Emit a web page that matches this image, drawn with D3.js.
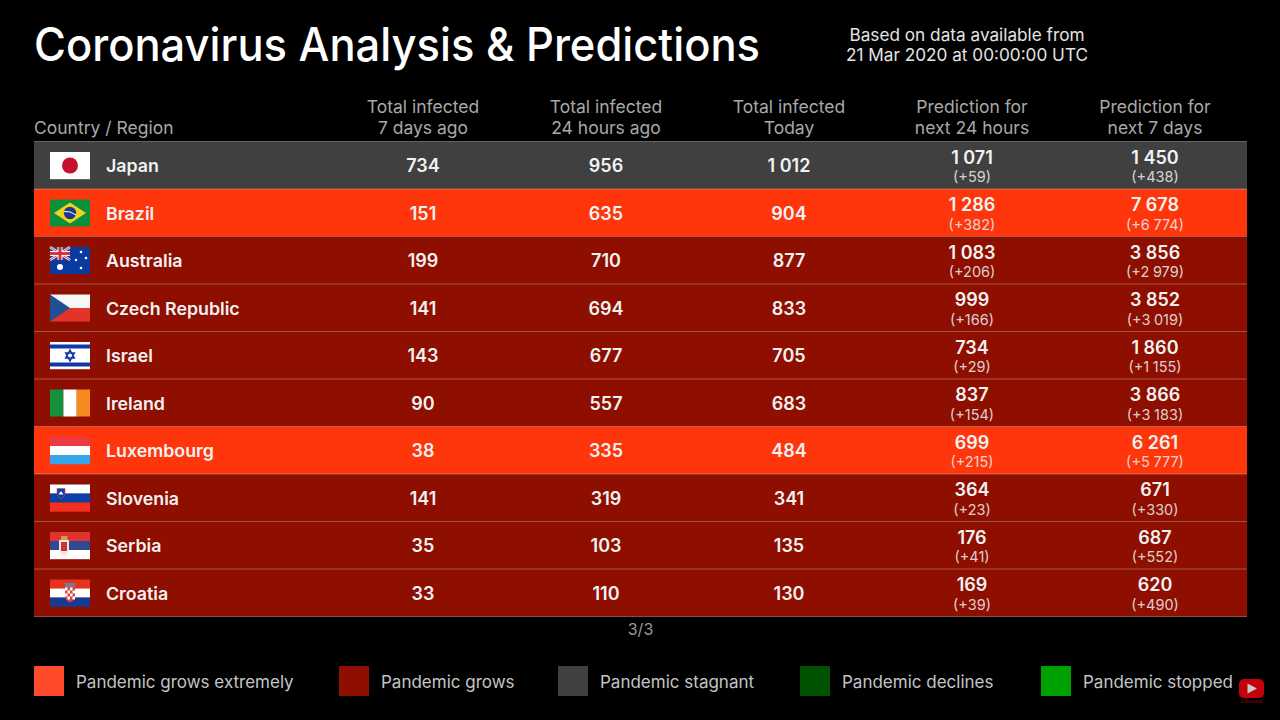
<!DOCTYPE html>
<html>
<head>
<meta charset="utf-8">
<script src="https://cdn.jsdelivr.net/npm/d3@7"></script>
<style>
    html, body {margin: 0; padding: 0; background: #000; overflow: hidden;}
    svg {display: block;}
    text {font-family: Inter, "Noto Sans", sans-serif;}
</style>
</head>
<body>
<svg id="chart" width="1280" height="720"></svg>
<script>
const countries = ["Japan", "Brazil", "Australia", "Czech Republic", "Israel", "Ireland", "Luxembourg", "Slovenia", "Serbia", "Croatia"];
const status = ["stagnant", "extreme", "grows", "grows", "grows", "grows", "extreme", "grows", "grows", "grows"];
const infected7d = [734, 151, 199, 141, 143, 90, 38, 141, 35, 33];
const infected24h = [956, 635, 710, 694, 677, 557, 335, 319, 103, 110];
const infectedToday = [1012, 904, 877, 833, 705, 683, 484, 341, 135, 130];
const predicted24h = [1071, 1286, 1083, 999, 734, 837, 699, 364, 176, 169];
const predicted7d = [1450, 7678, 3856, 3852, 1860, 3866, 6261, 671, 687, 620];

const columnHeads = [
    ["Total infected", "7 days ago"],
    ["Total infected", "24 hours ago"],
    ["Total infected", "Today"],
    ["Prediction for", "next 24 hours"],
    ["Prediction for", "next 7 days"]
];
const legendKeys = ["extreme", "grows", "stagnant", "declines", "stopped"];
const legendLabels = ["Pandemic grows extremely", "Pandemic grows", "Pandemic stagnant", "Pandemic declines", "Pandemic stopped"];
const legendColors = ["#ff4a2b", "#8e0e00", "#404040", "#005200", "#00a000"];
const rowColors = ["#ff360c", "#8e0e00", "#404040", "#005200", "#00a000"];

const svg = d3.select("#chart");
const num = d3.formatLocale({decimal: ".", thousands: "\u2005", grouping: [3], currency: ["", ""]}).format(",d");

const rowScale = d3.scaleBand().domain(d3.range(countries.length)).range([141.5, 616.5]);
const colScale = d3.scalePoint().domain(d3.range(columnHeads.length)).range([423, 1155]);
const rowColor = d3.scaleOrdinal().domain(legendKeys).range(rowColors);
const legendX = d3.scaleOrdinal().domain(legendKeys).range([34, 339, 558, 800, 1041]);

// title block
svg.append("text").attr("x", 34).attr("y", 61)
    .attr("font-size", 46).attr("font-weight", 500).attr("fill", "#fff")
    .attr("textLength", 726).attr("lengthAdjust", "spacingAndGlyphs")
    .text("Coronavirus Analysis & Predictions");
svg.append("text").attr("x", 967).attr("y", 41)
    .attr("font-size", 17.2).attr("fill", "#e4e4e4").attr("text-anchor", "middle")
    .text("Based on data available from");
svg.append("text").attr("x", 967).attr("y", 61)
    .attr("font-size", 17.2).attr("fill", "#e4e4e4").attr("text-anchor", "middle")
    .text("21 Mar 2020 at 00:00:00 UTC");

// header
svg.append("text").attr("x", 34).attr("y", 134)
    .attr("font-size", 17.5).attr("fill", "#a8a8a8")
    .text("Country / Region");
const head = svg.append("g").selectAll("g")
    .data(columnHeads).enter().append("g")
    .attr("transform", (d, i) => `translate(${colScale(i)},0)`);
head.append("text").attr("y", 113).attr("font-size", 17.5).attr("fill", "#a8a8a8")
    .attr("text-anchor", "middle").text(d => d[0]);
head.append("text").attr("y", 134).attr("font-size", 17.5).attr("fill", "#a8a8a8")
    .attr("text-anchor", "middle").text(d => d[1]);

// rows
const rows = svg.append("g").selectAll("g")
    .data(countries).enter().append("g")
    .attr("transform", (d, i) => `translate(0,${rowScale(i)})`);

rows.append("rect")
    .attr("x", 34).attr("width", 1213)
    .attr("height", rowScale.bandwidth())
    .attr("fill", (d, i) => rowColor(status[i]));
rows.append("line")
    .attr("x1", 34).attr("x2", 1247)
    .attr("stroke", "#fff").attr("stroke-opacity", 0.3).attr("stroke-width", 1);
svg.append("line")
    .attr("x1", 34).attr("x2", 1247)
    .attr("y1", rowScale.range()[1]).attr("y2", rowScale.range()[1])
    .attr("stroke", "#fff").attr("stroke-opacity", 0.3);

rows.append("text")
    .attr("x", 106).attr("y", 30.5)
    .attr("font-size", 17.8).attr("font-weight", 600).attr("fill", "#f2f2f2")
    .text(d => d);

const plainCols = [infected7d, infected24h, infectedToday];
plainCols.forEach(function(values, c) {
    rows.append("text")
        .attr("x", colScale(c)).attr("y", 30.5)
        .attr("font-size", 18).attr("font-weight", 600).attr("fill", "#f2f2f2")
        .attr("text-anchor", "middle")
        .text((d, i) => num(values[i]));
});

const predCols = [predicted24h, predicted7d];
predCols.forEach(function(values, c) {
    rows.append("text")
        .attr("x", colScale(c + 3)).attr("y", 22)
        .attr("font-size", 18).attr("font-weight", 600).attr("fill", "#f2f2f2")
        .attr("text-anchor", "middle")
        .text((d, i) => num(values[i]));
    rows.append("text")
        .attr("x", colScale(c + 3)).attr("y", 40.5)
        .attr("font-size", 14.5).attr("fill", "#e6e6e6").attr("fill-opacity", 0.9)
        .attr("text-anchor", "middle")
        .text((d, i) => "(+" + num(values[i] - infectedToday[i]) + ")");
});

// flags, each drawn in a 40x27 box
const stripes = {
    "Luxembourg": ["#ee3a45", "#ffffff", "#35a5e6"],
    "Slovenia": ["#ffffff", "#0b3fa8", "#f5301f"],
    "Serbia": ["#e0322f", "#2f4a93", "#ffffff"],
    "Croatia": ["#e8301f", "#ffffff", "#173a94"],
    "Israel": ["#ffffff"],
    "Japan": ["#ffffff"]
};

const flags = rows.append("g").attr("transform", "translate(50,10.5)");
flags.each(function(name) {
    const g = d3.select(this);
    const box = (x, y, w, h, c) => g.append("rect").attr("x", x).attr("y", y).attr("width", w).attr("height", h).attr("fill", c);
    if (stripes[name]) {
        const n = stripes[name].length;
        stripes[name].forEach((c, k) => box(0, k * 27 / n, 40, 27 / n + 0.2, c));
    }
    if (name == "Japan") {
        g.append("circle").attr("cx", 20).attr("cy", 13.5).attr("r", 8).attr("fill", "#c8102e");
    }
    if (name == "Brazil") {
        box(0, 0, 40, 27, "#0b8f3a");
        g.append("path").attr("d", "M20,3L36,13.5L20,24L4,13.5Z").attr("fill", "#f2d21b");
        g.append("circle").attr("cx", 20).attr("cy", 13.5).attr("r", 6.2).attr("fill", "#1d3a8a");
        g.append("path").attr("d", "M14,12Q20,11 26,15.5").attr("stroke", "#fff").attr("fill", "none").attr("stroke-width", 1);
    }
    if (name == "Australia") {
        box(0, 0, 40, 27, "#0b3ba0");
        box(0, 0, 20, 13, "#26408f");
        g.append("path").attr("d", "M0,0L20,13M20,0L0,13").attr("stroke", "#f2f2f2").attr("stroke-width", 2.6);
        g.append("path").attr("d", "M0,0L20,13M20,0L0,13").attr("stroke", "#d82b3a").attr("stroke-width", 0.9);
        box(7.5, 0, 5, 13, "#f2f2f2");
        box(0, 4, 20, 5, "#f2f2f2");
        box(8.6, 0, 2.8, 13, "#d82b3a");
        box(0, 5.1, 20, 2.8, "#d82b3a");
        [[10, 20, 3], [31, 5, 1.3], [36, 11, 1.3], [31, 21, 1.3], [26, 13, 1.2]].forEach(function(s) {
            g.append("circle").attr("cx", s[0]).attr("cy", s[1]).attr("r", s[2]).attr("fill", "#fff");
        });
    }
    if (name == "Czech Republic") {
        box(0, 0, 40, 13.5, "#f7f7f7");
        box(0, 13.5, 40, 13.5, "#e5332a");
        g.append("path").attr("d", "M0,0L20,13.5L0,27Z").attr("fill", "#1f4f94");
    }
    if (name == "Israel") {
        box(0, 2.5, 40, 4, "#1238a8");
        box(0, 20.5, 40, 4, "#1238a8");
        g.append("path").attr("d", "M20,8L24.3,16H15.7ZM20,19L15.7,11H24.3Z")
            .attr("fill", "none").attr("stroke", "#1238a8").attr("stroke-width", 1.5);
    }
    if (name == "Ireland") {
        box(0, 0, 13.4, 27, "#14903f");
        box(13.4, 0, 13.3, 27, "#ffffff");
        box(26.7, 0, 13.3, 27, "#f58a1f");
    }
    if (name == "Slovenia") {
        g.append("path").attr("d", "M7,4H15V9Q15,13 11,14Q7,13 7,9Z").attr("fill", "#0b3fa8").attr("stroke", "#e8423a").attr("stroke-width", 0.6);
        g.append("path").attr("d", "M8.5,10L11,6.5L13.5,10Z").attr("fill", "#fff");
    }
    if (name == "Serbia") {
        g.append("path").attr("d", "M9,8H19V17Q19,22 14,24Q9,22 9,17Z").attr("fill", "#f4e4e0");
        box(11, 10, 6, 9, "#c8323a");
        box(11, 4, 6.5, 4, "#c9a24e");
    }
    if (name == "Croatia") {
        g.append("path").attr("d", "M15,7H25V16Q25,21 20,23Q15,21 15,16Z").attr("fill", "#e04040");
        box(15, 3.5, 10, 4, "#6f7d9c");
        for (let a = 0; a < 4; a++) {
            for (let b = 0; b < 4; b++) {
                if ((a + b) % 2 == 0) box(15 + a * 2.5, 8 + b * 3, 2.5, 3, "#ffffff");
            }
        }
    }
});

// page number
svg.append("text").attr("x", 640.5).attr("y", 635)
    .attr("font-size", 16).attr("fill", "#9a9a9a").attr("text-anchor", "middle")
    .text("3/3");

// legend
const legend = svg.append("g").selectAll("g")
    .data(legendKeys).enter().append("g")
    .attr("transform", d => `translate(${legendX(d)},666)`);
legend.append("rect").attr("width", 30).attr("height", 30)
    .attr("fill", (d, i) => legendColors[i]);
legend.append("text").attr("x", 42).attr("y", 22)
    .attr("font-size", 17).attr("fill", "#c4c4c4")
    .text((d, i) => legendLabels[i]);

// subscribe badge
const badge = svg.append("g").attr("transform", "translate(1239,679)");
badge.append("rect").attr("width", 25).attr("height", 19).attr("rx", 5).attr("fill", "#c4000b");
badge.append("path").attr("d", "M8.5,4.5L18,9.5L8.5,14.5Z").attr("fill", "#c9c9c9");
badge.append("text").attr("x", 12.5).attr("y", 23.5)
    .attr("font-size", 4).attr("fill", "#a80008").attr("text-anchor", "middle")
    .text("SUBSCRIBE");
</script>
</body>
</html>
